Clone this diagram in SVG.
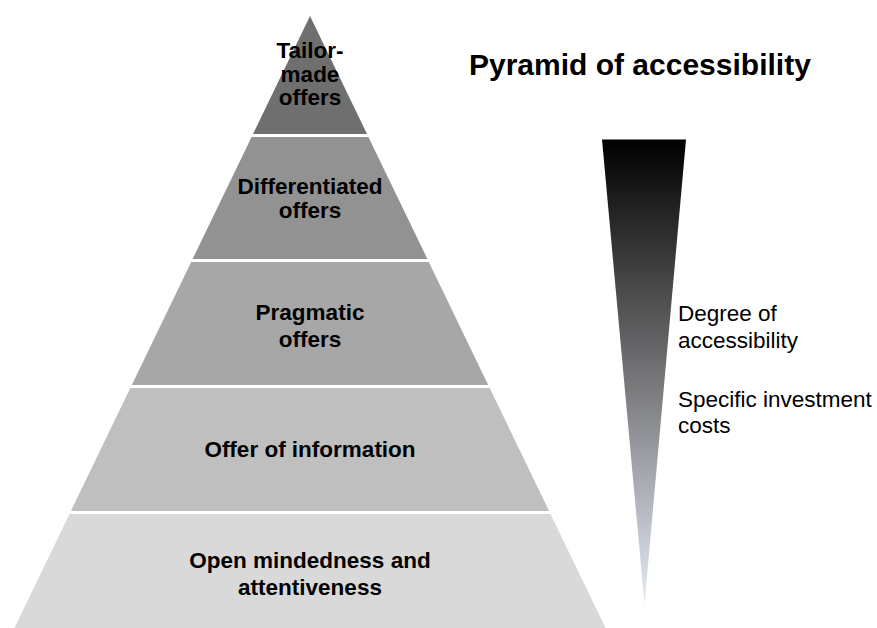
<svg xmlns="http://www.w3.org/2000/svg" width="877" height="628" viewBox="0 0 877 628">
  <style>
    .lbl { font-family: "Liberation Sans", Arial, sans-serif; font-weight: bold; font-size: 22.5px; fill: #000; text-anchor: middle; }
    .side { font-family: "Liberation Sans", Arial, sans-serif; font-size: 22.5px; fill: #000; }
    .title { font-family: "Liberation Sans", Arial, sans-serif; font-weight: bold; font-size: 30px; fill: #000; }
  </style>
  <defs>
    <linearGradient id="wedgeFill" x1="0" y1="0" x2="0" y2="1">
      <stop offset="0" stop-color="#000000"/>
      <stop offset="0.5" stop-color="#727274"/>
      <stop offset="1" stop-color="#e4eaf6"/>
    </linearGradient>
  </defs>

  <rect width="877" height="628" fill="#ffffff"/>

  <!-- pyramid tiers, apex at (310,16), base at y=628 -->
  <g id="tier-tailor-made">
    <polygon points="310,16 367,134 253,134" fill="#6f6f6f"/>
    <text class="lbl" x="310" y="58">Tailor-</text>
    <text class="lbl" x="310" y="81.5">made</text>
    <text class="lbl" x="310" y="104.5">offers</text>
  </g>
  <g id="tier-differentiated">
    <polygon points="368.4,137 427.4,259 192.6,259 251.6,137" fill="#929292"/>
    <text class="lbl" x="310" y="193.5">Differentiated</text>
    <text class="lbl" x="310" y="218">offers</text>
  </g>
  <g id="tier-pragmatic">
    <polygon points="428.8,262 488.2,385 131.8,385 191.2,262" fill="#a7a7a7"/>
    <text class="lbl" x="310" y="320">Pragmatic</text>
    <text class="lbl" x="310" y="346.5">offers</text>
  </g>
  <g id="tier-information">
    <polygon points="489.7,388 549.1,511 70.9,511 130.3,388" fill="#bfbfbf"/>
    <text class="lbl" x="310" y="457">Offer of information</text>
  </g>
  <g id="tier-open-mindedness">
    <polygon points="550.5,514 605.6,628 14.4,628 69.5,514" fill="#d9d9d9"/>
    <text class="lbl" x="310" y="568">Open mindedness and</text>
    <text class="lbl" x="310" y="594.5">attentiveness</text>
  </g>

  <!-- title -->
  <g id="title">
    <text class="title" x="469" y="75">Pyramid of accessibility</text>
  </g>

  <!-- shaded wedge with its labels -->
  <g id="wedge">
    <polygon points="602,139.5 686,139.5 644.5,604" fill="url(#wedgeFill)"/>
  </g>
  <g id="wedge-labels">
    <text class="side" x="678" y="321">Degree of</text>
    <text class="side" x="678" y="348">accessibility</text>
    <text class="side" x="678" y="406.5">Specific investment</text>
    <text class="side" x="678" y="433">costs</text>
  </g>
</svg>
